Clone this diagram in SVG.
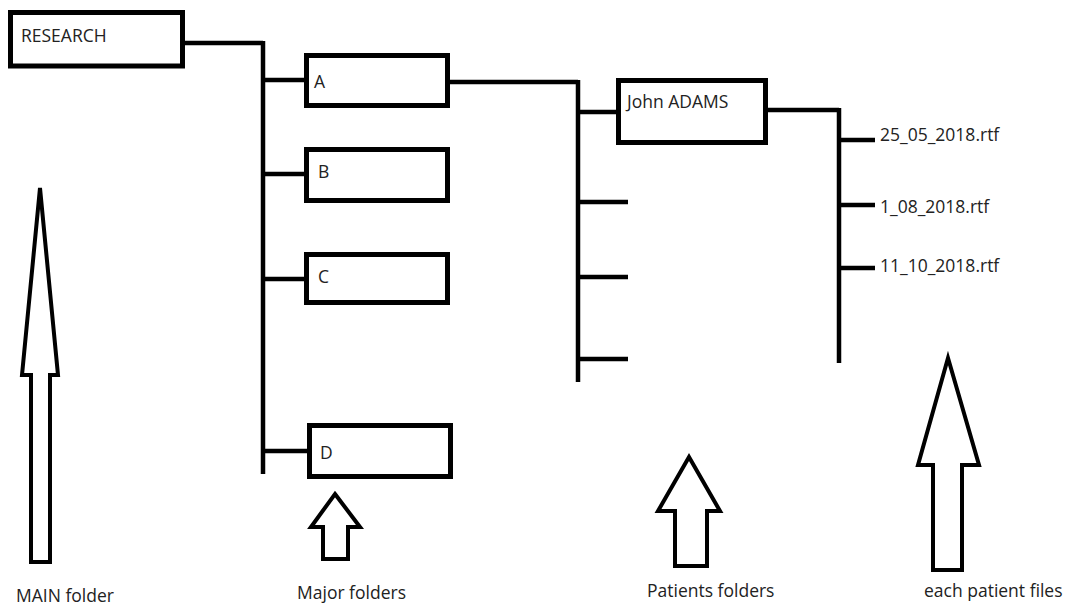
<svg xmlns="http://www.w3.org/2000/svg" width="1066" height="608" viewBox="0 0 1066 608">
  <style>
    .box { fill: #fff; stroke: #000; stroke-width: 5; }
    .wire { fill: none; stroke: #000; stroke-width: 4.5; stroke-linecap: butt; }
    .arrow { fill: #fff; stroke: #000; stroke-width: 4; stroke-linejoin: miter; }
    text { font-family: "Open Sans", "Noto Sans", sans-serif; font-size: 17.5px; fill: #222; }
  </style>
  <rect width="1066" height="608" fill="#fff"/>

  <!-- tree connectors -->
  <g id="connectors" class="wire">
    <!-- RESEARCH to major folders -->
    <path d="M185 43 H263 M263 41 V474"/>
    <path d="M263 80 H306 M263 174 H306 M263 279 H306 M263 451 H308"/>
    <!-- A to patients -->
    <path d="M450 82 H578 M578 80 V382"/>
    <path d="M578 112 H618 M578 202 H628 M578 277 H628 M578 359 H628"/>
    <!-- John ADAMS to files -->
    <path d="M768 110 H839 M839 108 V363"/>
    <path d="M839 140 H875 M839 205 H875 M839 268 H875"/>
  </g>

  <g id="research">
    <rect class="box" x="10.5" y="12.5" width="172" height="53.5"/>
    <text x="21" y="42">RESEARCH</text>
  </g>
  <g id="folder-a">
    <rect class="box" x="306.5" y="55.5" width="141" height="50"/>
    <text x="314" y="88">A</text>
  </g>
  <g id="folder-b">
    <rect class="box" x="306.5" y="149.5" width="141" height="51"/>
    <text x="318" y="178">B</text>
  </g>
  <g id="folder-c">
    <rect class="box" x="306.5" y="254.5" width="141" height="48"/>
    <text x="318" y="283">C</text>
  </g>
  <g id="folder-d">
    <rect class="box" x="309.5" y="425.5" width="141" height="51"/>
    <text x="320" y="459">D</text>
  </g>
  <g id="john-adams">
    <rect class="box" x="618.5" y="80.5" width="147" height="62"/>
    <text x="627" y="108">John ADAMS</text>
  </g>
  <g id="file-1">
    <text x="880" y="141">25_05_2018.rtf</text>
  </g>
  <g id="file-2">
    <text x="880" y="213">1_08_2018.rtf</text>
  </g>
  <g id="file-3">
    <text x="880" y="272">11_10_2018.rtf</text>
  </g>

  <!-- level pointers -->
  <g id="main-folder">
    <path class="arrow" d="M40 188 L58 375 H50 V562 H31 V375 H22 Z"/>
    <text x="16" y="602">MAIN folder</text>
  </g>
  <g id="major-folders">
    <path class="arrow" d="M335 494 L360 527 H348 V559 H323 V527 H311 Z"/>
    <text x="297" y="599">Major folders</text>
  </g>
  <g id="patients-folders">
    <path class="arrow" d="M689 457 L720 511 H707 V566 H675 V511 H658 Z"/>
    <text x="647" y="597">Patients folders</text>
  </g>
  <g id="patient-files">
    <path class="arrow" d="M948 358 L979 465 H962 V570 H933 V465 H918 Z"/>
    <text x="924" y="597">each patient files</text>
  </g>
</svg>
